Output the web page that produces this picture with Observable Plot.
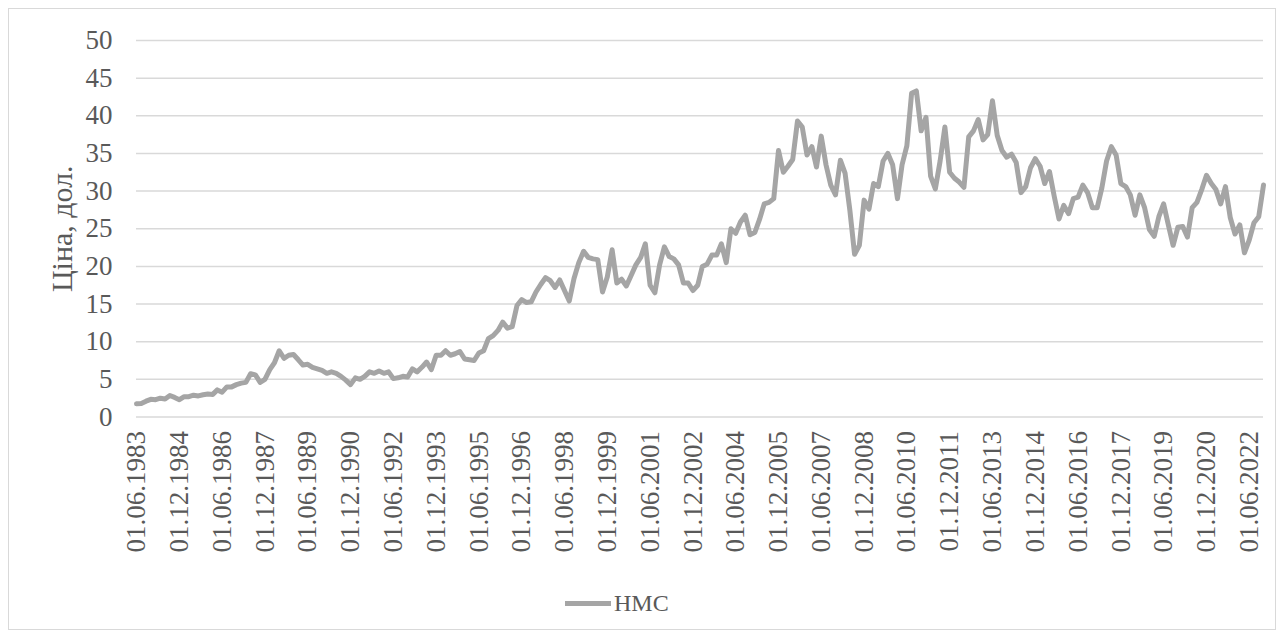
<!DOCTYPE html>
<html>
<head>
<meta charset="utf-8">
<script src="https://cdn.jsdelivr.net/npm/d3@7"></script>
<script src="https://cdn.jsdelivr.net/npm/@observablehq/plot@0.6"></script>
<style>
  html, body { margin: 0; padding: 0; background: #ffffff; }
  #wrap { position: relative; width: 1284px; height: 640px; overflow: hidden; font-family: "Liberation Serif", "Times New Roman", serif; }
  #frame { position: absolute; left: 8px; top: 8px; width: 1268px; height: 622px; border: 1px solid #d9d9d9; box-sizing: border-box; }
  #chart { position: absolute; left: 0; top: 0; }
  #legend { position: absolute; left: 565px; top: 590px; display: flex; align-items: center; color: #595959; font-size: 24px; }
  #legend .swatch { width: 46px; height: 5px; background: #a5a5a5; margin-right: 3px; }
</style>
</head>
<body>
<div id="wrap">
  <div id="frame"></div>
  <div id="chart"></div>
  <div id="legend"><span class="swatch"></span><span id="legendLabel"></span></div>
</div>
<script>
// Series: HMC price, one value every two months starting June 1983
const seriesName = "HMC";
const yTitle = "Ціна, дол.";
const startYear = 1983;
const startMonth = 6;      // June
const stepMonths = 2;
const hmcPrice = [
  1.75, 1.8, 2.1, 2.35, 2.3, 2.5, 2.4, 2.85, 2.6, 2.3,
  2.7, 2.7, 2.9, 2.8, 2.95, 3.05, 3.0, 3.6, 3.3, 4.0,
  4.0, 4.3, 4.5, 4.6, 5.75, 5.6, 4.6, 5.0, 6.3, 7.2,
  8.8, 7.8, 8.2, 8.3, 7.6, 6.9, 7.0, 6.6, 6.4, 6.2,
  5.8, 6.0, 5.8, 5.4, 4.9, 4.3, 5.2, 5.0, 5.4, 6.0,
  5.8, 6.1, 5.8, 6.0, 5.1, 5.2, 5.4, 5.3, 6.4, 6.0,
  6.6, 7.3, 6.3, 8.2, 8.2, 8.8, 8.2, 8.4, 8.7, 7.7,
  7.6, 7.5, 8.5, 8.8, 10.4, 10.8, 11.5, 12.6, 11.8, 12.0,
  14.8, 15.6, 15.2, 15.3, 16.6, 17.6, 18.5, 18.1, 17.2, 18.2,
  16.8, 15.4, 18.4, 20.5, 22.0, 21.2, 21.0, 20.9, 16.6, 18.6,
  22.2, 17.8, 18.3, 17.4, 18.8, 20.2, 21.2, 23.0, 17.5, 16.5,
  20.2, 22.6, 21.3, 21.0, 20.2, 17.8, 17.8, 16.8, 17.5, 20.0,
  20.3, 21.5, 21.5, 23.0, 20.5, 25.0, 24.4, 25.9, 26.8, 24.2,
  24.5, 26.2, 28.3, 28.5, 29.0, 35.4, 32.5, 33.3, 34.2, 39.3,
  38.5, 34.8, 35.9, 33.2, 37.3, 33.5, 30.8, 29.5, 34.1, 32.4,
  27.5, 21.6, 22.8, 28.8, 27.6, 31.0, 30.6, 34.0, 35.0, 33.5,
  29.0, 33.5, 36.0, 43.0, 43.3, 38.0, 39.8, 32.0, 30.3, 34.0,
  38.5, 32.5, 31.7, 31.2, 30.5, 37.2, 38.0, 39.5, 36.8, 37.5,
  42.0, 37.4, 35.4, 34.5, 34.9, 33.8, 29.8, 30.6, 33.1, 34.3,
  33.3, 31.0, 32.6, 29.3, 26.3, 28.1, 27.0, 29.0, 29.2, 30.8,
  29.8, 27.8, 27.8, 30.4, 34.0, 35.9, 34.8, 31.0, 30.6, 29.5,
  26.8, 29.5, 27.8, 24.9, 24.0, 26.6, 28.3, 25.5, 22.8, 25.2,
  25.3, 23.9, 27.8, 28.5, 30.2, 32.1, 31.0, 30.2, 28.3, 30.6,
  26.5, 24.3, 25.5, 21.8, 23.5, 25.8, 26.6, 30.8
];
const yTicks = [0, 5, 10, 15, 20, 25, 30, 35, 40, 45, 50];
const xTickLabels = [
  "01.06.1983", "01.12.1984", "01.06.1986", "01.12.1987", "01.06.1989",
  "01.12.1990", "01.06.1992", "01.12.1993", "01.06.1995", "01.12.1996",
  "01.06.1998", "01.12.1999", "01.06.2001", "01.12.2002", "01.06.2004",
  "01.12.2005", "01.06.2007", "01.12.2008", "01.06.2010", "01.12.2011",
  "01.06.2013", "01.12.2014", "01.06.2016", "01.12.2017", "01.06.2019",
  "01.12.2020", "01.06.2022"
];

const parseLabel = d3.utcParse("%d.%m.%Y");
const fmtLabel = d3.utcFormat("%d.%m.%Y");
const data = hmcPrice.map((v, i) => ({
  date: new Date(Date.UTC(startYear, startMonth - 1 + stepMonths * i, 1)),
  price: v
}));
const tickDates = xTickLabels.map(parseLabel);

const chart = Plot.plot({
  width: 1284,
  height: 560,
  marginLeft: 136,
  marginRight: 21,
  marginTop: 40,
  marginBottom: 143.5,
  style: { fontFamily: "'Liberation Serif', 'Times New Roman', serif", fontSize: "27px", color: "#595959", background: "transparent", overflow: "visible" },
  x: {
    type: "utc",
    domain: [data[0].date, data[data.length - 1].date],
    ticks: tickDates,
    tickFormat: fmtLabel,
    tickRotate: -90,
    tickSize: 0,
    tickPadding: 14,
    label: null
  },
  y: {
    domain: [0, 50],
    ticks: yTicks,
    tickSize: 0,
    tickPadding: 24,
    label: null
  },
  marks: [
    Plot.gridY(yTicks, { stroke: "#d9d9d9", strokeOpacity: 1, strokeWidth: 1.5 }),
    Plot.lineY(data, { x: "date", y: "price", stroke: "#a5a5a5", strokeWidth: 5, strokeLinejoin: "round", strokeLinecap: "round" }),
    Plot.text([yTitle], { text: d => d, frameAnchor: "left", textAnchor: "middle", rotate: -90, dx: -74, dy: 0, fill: "#595959", fontSize: 30 })
  ]
});
document.getElementById("chart").appendChild(chart);
document.getElementById("legendLabel").textContent = seriesName;
</script>
</body>
</html>
